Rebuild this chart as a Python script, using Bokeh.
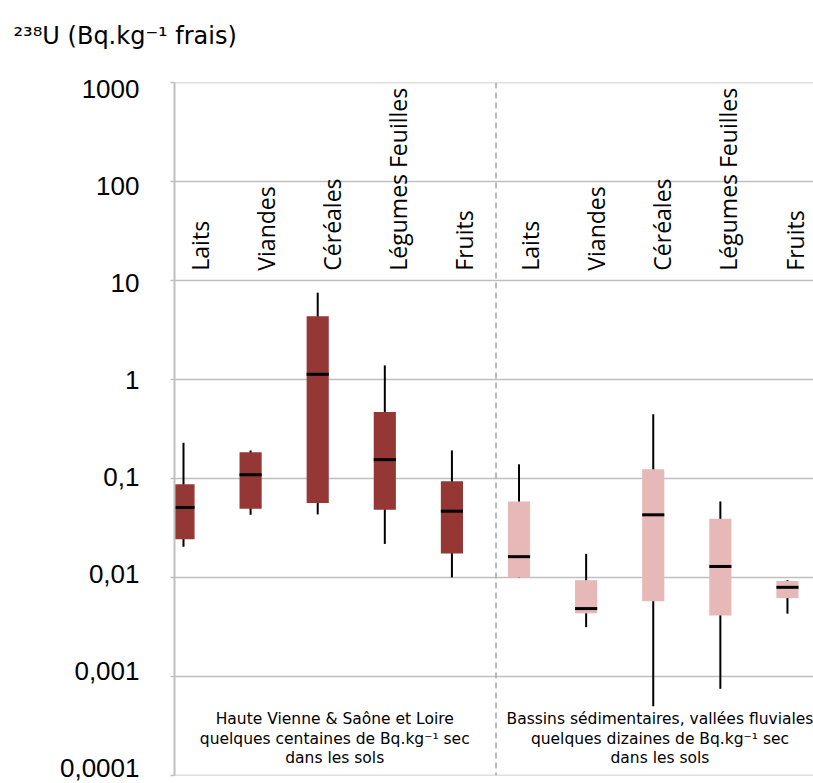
from math import pi
from bokeh.plotting import figure
from bokeh.models import (ColumnDataSource, Range1d, FixedTicker, CustomJSTickFormatter, Span,
                          LogAxis, LogScale)
from bokeh.core.properties import value
from bokeh.embed import file_html
from bokeh.resources import INLINE

# ---- data ----
categories = ["Laits", "Viandes", "Céréales", "Légumes Feuilles", "Fruits",
              "Laits", "Viandes", "Céréales", "Légumes Feuilles", "Fruits"]
group = ["A"] * 5 + ["B"] * 5
whisker_low = [0.0204, 0.043, 0.0433, 0.0218, 0.0100,
               0.0100, 0.00314, 0.00050, 0.000748, 0.0043]
q1 = [0.0243, 0.0494, 0.0565, 0.0484, 0.0174,
      0.0100, 0.00433, 0.00575, 0.00413, 0.00618]
median = [0.051, 0.109, 1.13, 0.155, 0.0467,
          0.0162, 0.00484, 0.0429, 0.0129, 0.00794]
q3 = [0.0875, 0.184, 4.37, 0.471, 0.0935,
      0.0586, 0.00938, 0.1236, 0.0392, 0.0092]
whisker_high = [0.229, 0.192, 7.55, 1.39, 0.192,
                0.139, 0.0173, 0.447, 0.0586, 0.00938]
group_colors = {"A": "#953735", "B": "#E6B9B8"}

y_ticks = [0.0001, 0.001, 0.01, 0.1, 1, 10, 100, 1000]
title_text = "²³⁸U (Bq.kg⁻¹ frais)"
group_notes = {
    "A": ["Haute Vienne & Saône et Loire", "quelques centaines de Bq.kg⁻¹ sec", "dans les sols"],
    "B": ["Bassins sédimentaires, vallées fluviales", "quelques dizaines de Bq.kg⁻¹ sec", "dans les sols"],
}

# ---- layout constants ----
BOX_W = 0.33
xs = list(range(len(categories)))

p = figure(width=813, height=783, y_axis_type="log",
           x_range=Range1d(-0.134, 9.388), y_range=Range1d(0.0000995, 1005),
           output_backend="svg", toolbar_location=None,
           min_border_left=174, min_border_right=0, min_border_top=82, min_border_bottom=8)
p.outline_line_color = None
p.background_fill_color = "white"
p.xaxis.visible = False
p.xgrid.visible = False

p.title.text = title_text + "\n "
p.title.text_font = "DejaVu Sans"
p.title.text_font_size = "24px"
p.title.text_font_style = "normal"
p.title.text_color = "black"
p.title.align = "left"
p.title.vertical_align = "bottom"
p.title.offset = -161
p.title.standoff = 10

fmt_code = """
if (tick >= 1) return tick.toFixed(0);
const d = Math.round(-Math.log10(tick));
return tick.toFixed(d).replace('.', ',');
"""

# main axis: line, small outer ticks and grid (labels drawn by the label axis)
p.yaxis.ticker = FixedTicker(ticks=y_ticks)
p.yaxis.formatter = CustomJSTickFormatter(code="return '';")
p.yaxis.major_label_standoff = 0
p.yaxis.major_label_text_font_size = "1px"
p.yaxis.axis_line_color = "#bfbfbf"
p.yaxis.axis_line_width = 2
p.yaxis.major_tick_line_color = "#bfbfbf"
p.yaxis.major_tick_line_width = 1.5
p.yaxis.major_tick_out = 4
p.yaxis.major_tick_in = 0
p.yaxis.minor_tick_line_color = None
p.ygrid.grid_line_color = "#bfbfbf"
p.ygrid.grid_line_width = 1.5

# label axis: tick labels spaced as in the source chart (slightly tighter than the grid)
p.extra_y_ranges = {"lab": Range1d(10 ** -4.0721, 10 ** 3.0618)}
p.extra_y_scales = {"lab": LogScale()}
lab_axis = LogAxis(y_range_name="lab", ticker=FixedTicker(ticks=y_ticks),
                   formatter=CustomJSTickFormatter(code=fmt_code))
lab_axis.major_label_text_font = "Liberation Sans"
lab_axis.major_label_text_font_size = "26px"
lab_axis.major_label_text_color = "black"
lab_axis.axis_line_color = None
lab_axis.major_tick_out = 0
lab_axis.major_tick_in = 0
lab_axis.major_tick_line_color = None
lab_axis.minor_tick_line_color = None
lab_axis.major_label_standoff = 31
p.add_layout(lab_axis, "left")

# divider
p.add_layout(Span(location=4.657, dimension="height", line_color="#a6a6a6",
                  line_dash="6 4", line_width=1.5))

src = ColumnDataSource(dict(
    x=xs,
    x0=[x - BOX_W / 2 for x in xs],
    x1=[x + BOX_W / 2 for x in xs],
    lo=whisker_low, q1=q1, med=median, q3=q3, hi=whisker_high,
    color=[group_colors[g] for g in group],
))

p.segment(x0="x", x1="x", y0="lo", y1="hi", source=src, line_color="black", line_width=2)
p.vbar(x="x", width=BOX_W, bottom="q1", top="q3", source=src,
       fill_color="color", line_color=None)
p.segment(x0="x0", x1="x1", y0="med", y1="med", source=src, line_color="black", line_width=3)

# category labels (rotated)
label_x = [x + 0.24 - 0.015 * x for x in xs]
p.text(x=label_x, y=[12.6] * len(xs), text=categories,
       angle=pi / 2, text_align="left", text_baseline="middle",
       text_font=value("Open Sans"), text_font_size="23px", text_color="black")

# group notes
note_x = {"A": 2.254, "B": 7.10}
note_y = [3.68e-4, 2.31e-4, 1.49e-4]
nx, ny, nt = [], [], []
for g, lines in group_notes.items():
    for yy, t in zip(note_y, lines):
        nx.append(note_x[g]); ny.append(yy); nt.append(t)
p.text(x=nx, y=ny, text=nt, text_align="center", text_baseline="middle",
       text_font=value("DejaVu Sans"), text_font_size="15.5px", text_color="black")

open("out.html", "w").write(file_html(p, INLINE))
